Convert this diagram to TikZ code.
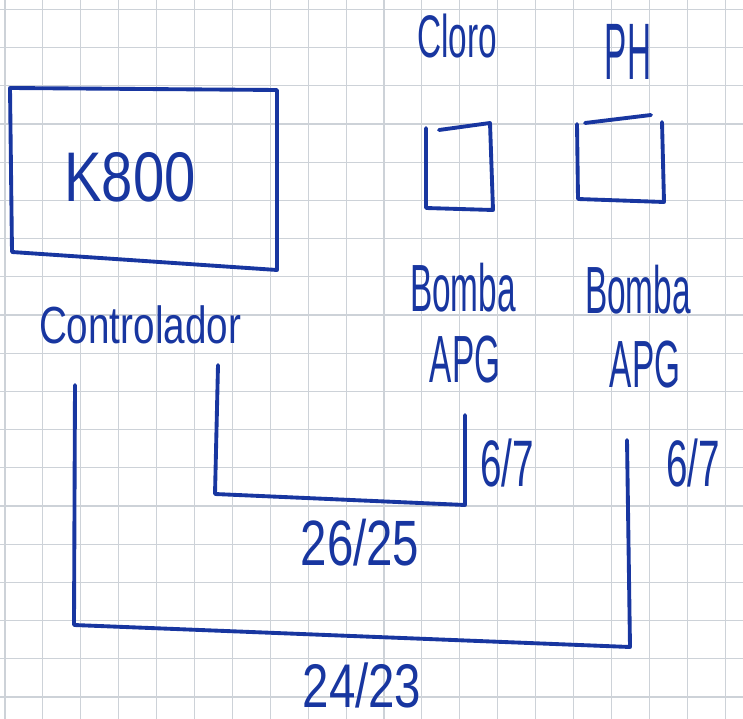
\documentclass[tikz,border=0pt]{standalone}
\usepackage{fontspec}
\setmainfont{Liberation Sans}
\usepackage{tikz}
\usepackage{graphicx}
\definecolor{ink}{RGB}{24,54,160}
\definecolor{paper}{RGB}{205,210,216}
\newcommand{\inkt}[2]{\scalebox{1}[#1]{#2}}
\tikzset{
  gridln/.style ={draw=paper, line width=0.6pt},
  hand/.style   ={text=ink, inner sep=0pt},
  bigtxt/.style ={hand, font=\fontsize{32}{32}\selectfont},
  ctrltxt/.style={hand, font=\fontsize{22}{22}\selectfont},
  lbl/.style    ={hand, font=\fontsize{19}{19}\selectfont},
  pin/.style    ={hand, font=\fontsize{22}{22}\selectfont},
  cable/.style  ={hand, font=\fontsize{27}{27}\selectfont},
  wire/.style   ={draw=ink, line width=2.2pt, line join=round, line cap=round},
}

\begin{document}
\begin{tikzpicture}[x=0.02cm, y=-0.02cm]
  \useasboundingbox[fill=white] (0,0) rectangle (743,719);
  \foreach \i in {0,...,19}
    \draw[gridln] ({5+37.9*\i},0) -- ({5+37.9*\i},719);
  \foreach \j in {0,...,18}
    \draw[gridln] (0,{9.4+38.2*\j}) -- (743,{9.4+38.2*\j});
  % controlador
  \draw[wire] (10,88) -- (277,90) -- (277,270) -- (12,252) -- cycle;
  \node[bigtxt] (k800) at (130,177) {\inkt{1.25}{K800}};
  \node[ctrltxt] (ctrl) at (140,325) {\inkt{1.35}{Controlador}};
  % sensores
  \node[lbl] (cloro) at (457,36) {\inkt{1.8}{Cloro}};
  \node[lbl] (ph) at (628,52) {\inkt{2.4}{PH}};
  \draw[wire] (439,130) -- (490,123) -- (493,210) -- (426,208) -- (426,128);
  \draw[wire] (585,123) -- (651,115);
  \draw[wire] (662,122) -- (664,202) -- (578,199) -- (577,124);
  % bombas
  \node[lbl] (bomba1) at (463,288) {\inkt{2}{Bomba}};
  \node[lbl] (apg1) at (465,360) {\inkt{2}{APG}};
  \node[lbl] (bomba2) at (638,290) {\inkt{2}{Bomba}};
  \node[lbl] (apg2) at (645,365) {\inkt{2}{APG}};
  % cables
  \coordinate (c1top) at (218,365);
  \coordinate (c1bot) at (215,494);
  \coordinate (b1bot) at (465,505);
  \coordinate (b1top) at (465,415);
  \draw[wire] (c1top) -- (c1bot) -- (b1bot) -- (b1top);
  \coordinate (c2top) at (75,385);
  \coordinate (c2bot) at (74,625);
  \coordinate (b2bot) at (630,647);
  \coordinate (b2top) at (627,440);
  \draw[wire] (c2top) -- (c2bot) -- (b2bot) -- (b2top);
  \node[pin] (p1) at (507,463) {\inkt{1.7}{6/7}};
  \node[pin] (p2) at (693,463) {\inkt{1.7}{6/7}};
  \node[cable] (w1) at (360,543) {\inkt{1.35}{26/25}};
  \node[cable] (w2) at (362,685) {\inkt{1.3}{24/23}};
\end{tikzpicture}
\end{document}
